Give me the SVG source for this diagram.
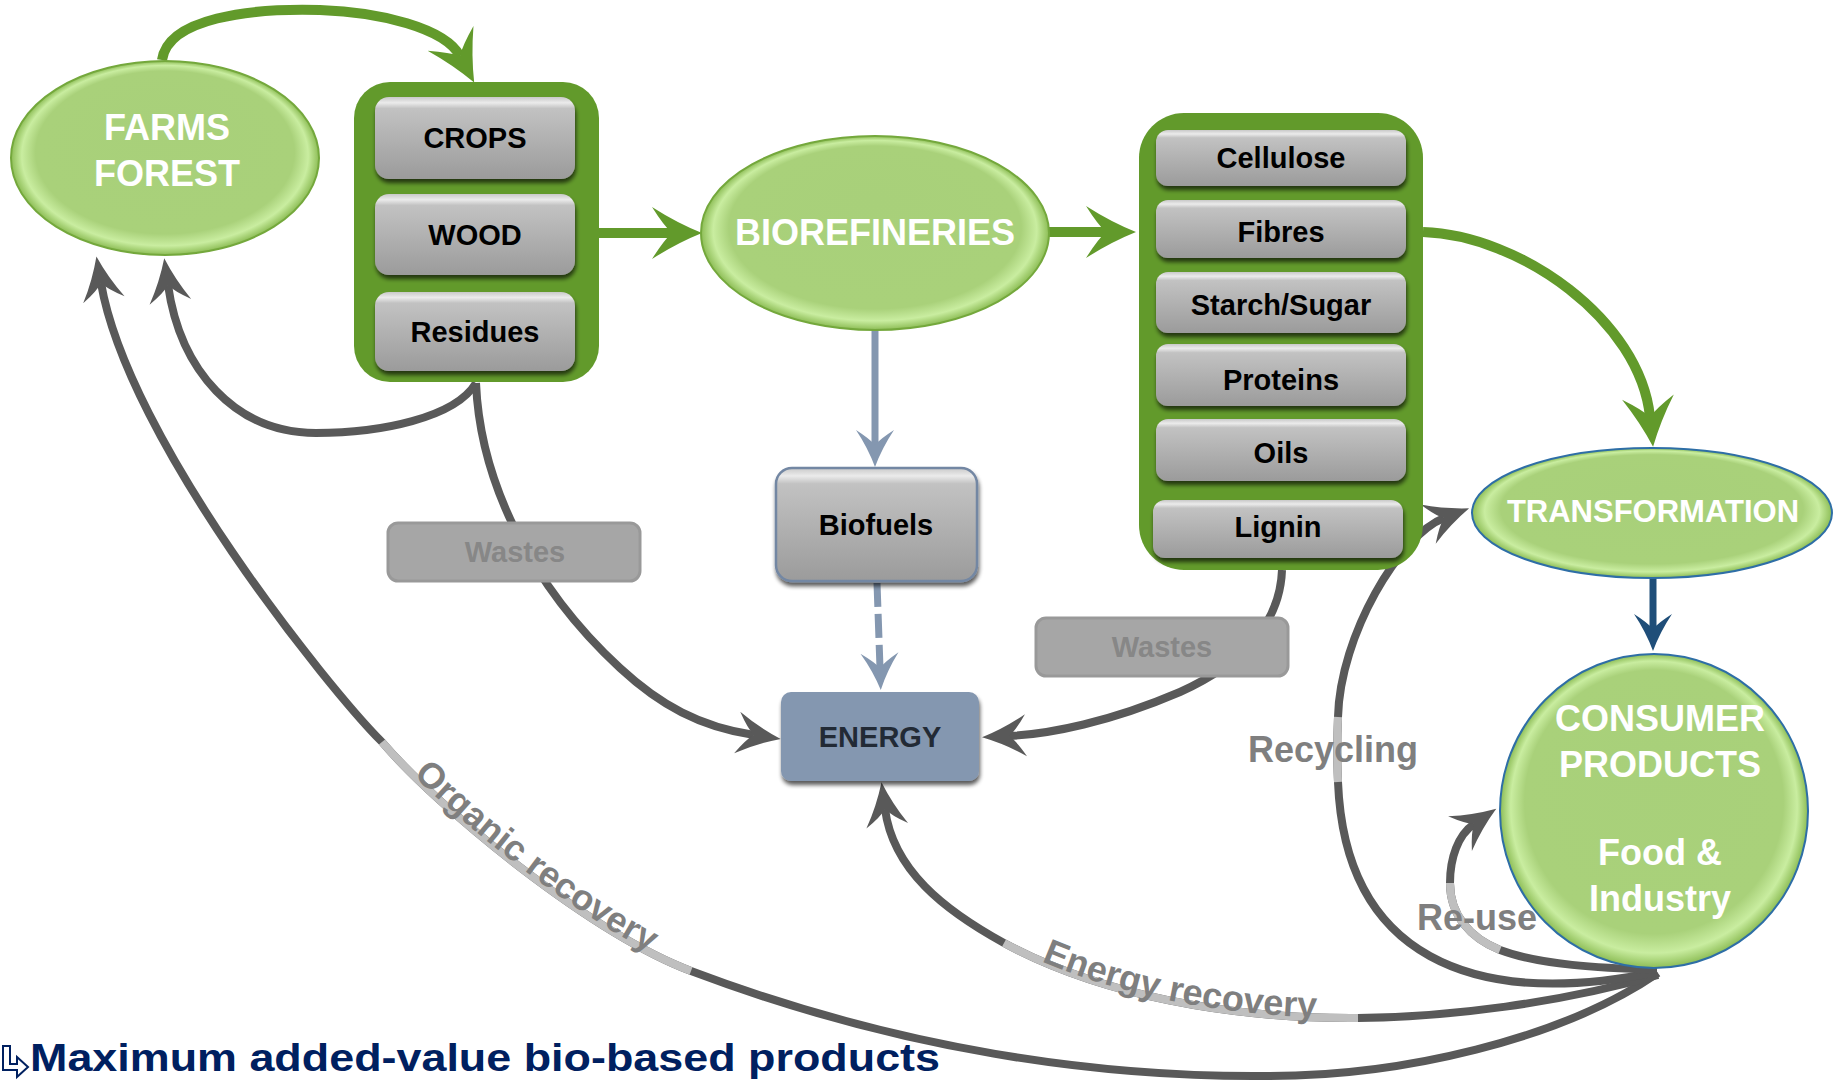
<svg xmlns="http://www.w3.org/2000/svg" width="1833" height="1081" viewBox="0 0 1833 1081">
<style>
.big{font-family:"Liberation Sans",Arial,sans-serif;font-weight:bold;fill:#ffffff;text-anchor:middle}
.btn{font-family:"Liberation Sans Narrow","Liberation Sans",Arial,sans-serif;font-weight:bold;font-size:29px;fill:#000;text-anchor:middle}
.waste{font-family:"Liberation Sans Narrow","Liberation Sans",Arial,sans-serif;font-weight:bold;font-size:29px;fill:#878787;text-anchor:middle}
.glbl{font-family:"Liberation Sans",Arial,sans-serif;font-weight:bold;font-size:36px;fill:#7f7f7f}
.gline{fill:none;stroke:#595959;stroke-width:8}
.band{fill:none;stroke:#bfbfbf;stroke-width:8}
.grn{fill:none;stroke:#629a2b;stroke-width:10}
.ell{fill:url(#gEll)}
.button{fill:url(#gBtn);filter:url(#sh)}
</style>
<defs>
<radialGradient id="gEll" cx="50%" cy="50%" r="50%" fx="50%" fy="32%">
<stop offset="0" stop-color="#a8d07a"/>
<stop offset="0.84" stop-color="#a9d17a"/>
<stop offset="0.93" stop-color="#c9eda0"/>
<stop offset="1" stop-color="#8dbd56"/>
</radialGradient>
<linearGradient id="gBtn" x1="0" y1="0" x2="0" y2="1">
<stop offset="0" stop-color="#c9c9c9"/>
<stop offset="0.07" stop-color="#ebebeb"/>
<stop offset="0.14" stop-color="#c2c2c2"/>
<stop offset="1" stop-color="#9b9b9b"/>
</linearGradient>
<filter id="sh" x="-10%" y="-15%" width="125%" height="150%">
<feGaussianBlur in="SourceAlpha" stdDeviation="2"/>
<feOffset dx="1" dy="4"/>
<feComponentTransfer><feFuncA type="linear" slope="0.65"/></feComponentTransfer>
<feMerge><feMergeNode/><feMergeNode in="SourceGraphic"/></feMerge>
</filter>
<marker id="mG" markerUnits="userSpaceOnUse" orient="auto" refX="0" refY="0" markerWidth="60" markerHeight="60" overflow="visible">
<path d="M30,0 Q5,-10 -20,-26 Q-8,-7 0,0 Q-8,7 -20,26 Q5,10 30,0 Z" fill="#629a2b"/>
</marker>
<marker id="mK" markerUnits="userSpaceOnUse" orient="auto" refX="0" refY="0" markerWidth="60" markerHeight="60" overflow="visible">
<path d="M27,0 Q4,-8 -17,-21 Q-7,-5 0,0 Q-7,5 -17,21 Q4,8 27,0 Z" fill="#595959"/>
</marker>
<marker id="mB" markerUnits="userSpaceOnUse" orient="auto" refX="0" refY="0" markerWidth="60" markerHeight="60" overflow="visible">
<path d="M22,0 Q3,-7 -15,-19 Q-6,-5 0,0 Q-6,5 -15,19 Q3,7 22,0 Z" fill="#8497b0"/>
</marker>
<marker id="mN" markerUnits="userSpaceOnUse" orient="auto" refX="0" refY="0" markerWidth="60" markerHeight="60" overflow="visible">
<path d="M22,0 Q3,-7 -15,-19 Q-6,-5 0,0 Q-6,5 -15,19 Q3,7 22,0 Z" fill="#1f4e79"/>
</marker>
<path id="tpOrg" d="M382,742 C440,810 591,933 691,971"/>
<path id="tpEn" d="M1004,943 C1100,995 1230,1019 1358,1018"/>
</defs>
<rect width="1833" height="1081" fill="#ffffff"/>

<g id="connectors">
<path class="grn" d="M162,60 C168,18 250,8 320,10 C380,12 445,28 460,56" marker-end="url(#mG)"/>
<path class="grn" d="M599,233 L672,233" marker-end="url(#mG)"/>
<path class="grn" d="M1049,232 L1106,232" marker-end="url(#mG)"/>
<path class="grn" d="M1423,232 C1520,235 1640,320 1650,417" marker-end="url(#mG)"/>
<path d="M875,330 L875,445" fill="none" stroke="#8497b0" stroke-width="7" marker-end="url(#mB)"/>
<path d="M877,583 L880,668" fill="none" stroke="#8497b0" stroke-width="7" stroke-dasharray="24 7" marker-end="url(#mB)"/>
<path d="M1653,578 L1653,629" fill="none" stroke="#1f4e79" stroke-width="7" marker-end="url(#mN)"/>
<path class="gline" d="M476,383 C455,418 380,433 316,433 C235,433 180,370 168,285" marker-end="url(#mK)"/>
<path class="gline" d="M476,383 C480,480 530,585 620,668 C660,705 700,727 754,735" marker-end="url(#mK)"/>
<path class="gline" d="M1282,570 C1280,625 1240,665 1180,692 C1110,722 1050,734 1009,736" marker-end="url(#mK)"/>
<path class="gline" d="M1658,973 C1560,1040 1400,1076 1270,1076 C1100,1078 900,1050 691,971 C591,933 440,810 382,742 C330,690 128,440 101,283" marker-end="url(#mK)"/>
<path class="band" d="M691,971 C591,933 440,810 382,742"/>
<path class="gline" d="M1658,975 C1560,1003 1450,1017 1358,1018 C1230,1019 1100,995 1004,943 C944,910 893,870 885,809" marker-end="url(#mK)"/>
<path class="band" d="M1358,1018 C1230,1019 1100,995 1004,943"/>
<path class="gline" d="M1657,972 C1470,1010 1345,955 1338,782 C1337,760 1337,740 1338,717 C1340,635 1400,535 1444,518" marker-end="url(#mK)"/>
<path class="band" d="M1338,782 C1337,760 1337,740 1338,717"/>
<path class="gline" d="M1657,970 C1600,968 1540,965 1500,950 C1470,938 1450,915 1450,883 C1450,858 1458,835 1474,824" marker-end="url(#mK)"/>
<path class="band" d="M1500,950 C1470,938 1450,915 1450,883"/>
<text class="glbl"><textPath href="#tpOrg" startOffset="50%" text-anchor="middle">Organic recovery</textPath></text>
<text class="glbl"><textPath href="#tpEn" startOffset="50%" text-anchor="middle">Energy recovery</textPath></text>
<text class="glbl" x="1333" y="762" text-anchor="middle">Recycling</text>
<text class="glbl" x="1477" y="930" text-anchor="middle">Re-use</text>
</g>

<g id="farms">
<ellipse class="ell" cx="165" cy="158" rx="154" ry="97" stroke="#74a83c" stroke-width="2"/>
<text class="big" x="167" y="140" font-size="36">FARMS</text>
<text class="big" x="167" y="186" font-size="36">FOREST</text>
</g>

<g id="feedstocks">
<rect x="354" y="82" width="245" height="300" rx="36" fill="#629a2b"/>
<rect class="button" x="375" y="97" width="200" height="82" rx="14"/>
<rect class="button" x="375" y="194" width="200" height="81" rx="14"/>
<rect class="button" x="375" y="292" width="200" height="79" rx="14"/>
<text class="btn" x="475" y="148">CROPS</text>
<text class="btn" x="475" y="245">WOOD</text>
<text class="btn" x="475" y="342">Residues</text>
</g>

<g id="biorefineries">
<ellipse class="ell" cx="875" cy="233" rx="174" ry="97" stroke="#74a83c" stroke-width="2"/>
<text class="big" x="875" y="245" font-size="36">BIOREFINERIES</text>
</g>

<g id="products">
<rect x="1139" y="113" width="284" height="457" rx="45" fill="#629a2b"/>
<rect class="button" x="1156" y="130" width="250" height="56" rx="12"/>
<rect class="button" x="1156" y="200" width="250" height="58" rx="12"/>
<rect class="button" x="1156" y="272" width="250" height="61" rx="12"/>
<rect class="button" x="1156" y="344" width="250" height="62" rx="12"/>
<rect class="button" x="1156" y="419" width="250" height="62" rx="12"/>
<rect class="button" x="1153" y="500" width="250" height="58" rx="12"/>
<text class="btn" x="1281" y="168">Cellulose</text>
<text class="btn" x="1281" y="242">Fibres</text>
<text class="btn" x="1281" y="315">Starch/Sugar</text>
<text class="btn" x="1281" y="390">Proteins</text>
<text class="btn" x="1281" y="463">Oils</text>
<text class="btn" x="1278" y="537">Lignin</text>
</g>

<g id="biofuels">
<rect x="776" y="468" width="201" height="113" rx="16" fill="url(#gBtn)" stroke="#7387a3" stroke-width="2.5" filter="url(#sh)"/>
<text class="btn" x="876" y="535">Biofuels</text>
</g>

<g id="energy">
<rect x="781" y="692" width="198" height="89" rx="10" fill="#8497b0" filter="url(#sh)"/>
<text class="btn" x="880" y="747" style="fill:#222a35">ENERGY</text>
</g>

<g id="wastes1">
<rect x="388" y="523" width="252" height="58" rx="10" fill="#a6a6a6" stroke="#999999" stroke-width="3"/>
<text class="waste" x="515" y="562">Wastes</text>
</g>

<g id="wastes2">
<rect x="1036" y="618" width="252" height="58" rx="10" fill="#a6a6a6" stroke="#999999" stroke-width="3"/>
<text class="waste" x="1162" y="657">Wastes</text>
</g>

<g id="transformation">
<ellipse class="ell" cx="1652" cy="513" rx="180" ry="65" stroke="#2e6ea6" stroke-width="2"/>
<text class="big" x="1653" y="522" font-size="31">TRANSFORMATION</text>
</g>

<g id="consumer">
<ellipse class="ell" cx="1654" cy="811" rx="154" ry="157" stroke="#2e6ea6" stroke-width="2"/>
<text class="big" x="1660" y="731" font-size="36">CONSUMER</text>
<text class="big" x="1660" y="777" font-size="36">PRODUCTS</text>
<text class="big" x="1660" y="865" font-size="36">Food &amp;</text>
<text class="big" x="1660" y="911" font-size="36">Industry</text>
</g>

<g id="footer">
<path d="M3,1046 L10,1046 L10,1064 L17,1064 L17,1057 L28,1067 L17,1077 L17,1070 L3,1070 Z" fill="#ffffff" stroke="#002060" stroke-width="2"/>
<text x="30" y="1071" font-family="Liberation Sans, Arial, sans-serif" font-weight="bold" font-size="39" fill="#002060" textLength="910" lengthAdjust="spacingAndGlyphs">Maximum added-value bio-based products</text>
</g>
</svg>
